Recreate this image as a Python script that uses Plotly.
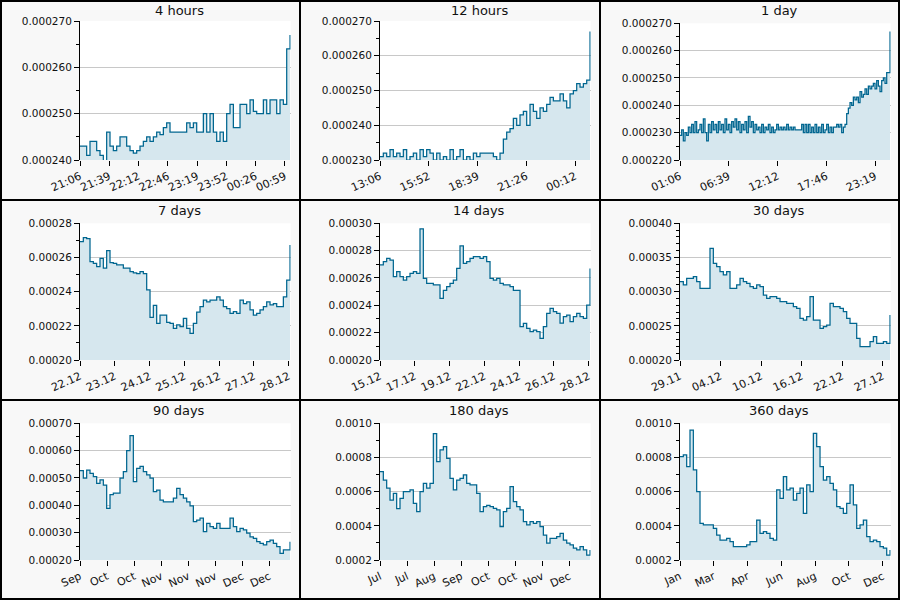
import numpy as np
import plotly.graph_objects as go

# ---------------- data ----------------
titles = ["4 hours", "12 hours", "1 day", "7 days", "14 days", "30 days",
          "90 days", "180 days", "360 days"]

# 4 hours, values x1e-6, minutes from 21:06
v_4h = [243, 243, 241, 244, 244, 242, 241, 239.5, 246, 243, 242, 243, 245, 245, 243, 242,
        241.5, 242, 243, 244, 245, 244, 245, 246, 245.5, 247, 248, 246, 246, 246, 246, 246,
        248, 247, 248, 246, 246, 250, 246, 250, 246, 244, 246, 244, 250, 252, 247, 247,
        252, 252, 250, 253, 250.5, 250, 250, 253, 250, 253, 253, 250, 253, 252, 264, 267]
t_4h = [0, 33.33, 66.67, 100, 133.33, 166.67, 200, 233.33]
lab_4h = ["21:06", "21:39", "22:12", "22:46", "23:19", "23:52", "00:26", "00:59"]

# 12 hours, values x1e-6, minutes from 13:06
v_12h = [231, 232, 231, 233, 231, 232, 231, 233, 230, 231, 232, 230, 233, 231, 233, 232,
         230, 232, 230, 231, 230, 233, 230, 231, 233, 230, 231, 230, 232, 231, 232, 232,
         232, 232, 231, 230, 232, 236, 238, 239, 242, 240, 243, 244, 240, 246, 244, 242,
         245, 244, 246, 248, 247, 247, 249, 247, 245, 249, 250, 252, 251, 252, 253, 267]
t_12h = [0, 166.67, 333.33, 500, 666.67]
lab_12h = ["13:06", "15:52", "18:39", "21:26", "00:12"]

# 1 day, values x1e-6, minutes from 01:06
v_1d = [229, 231, 227, 230, 229, 232, 230, 233, 230, 234, 230, 231, 233, 230, 235, 230,
        227, 233, 230, 234, 231, 233, 230, 234, 231, 233, 230, 235, 231, 233, 230, 234,
        232, 235, 231, 234, 230, 233, 231, 234, 230, 236, 232, 234, 230, 233, 231, 232,
        230, 233, 230, 232, 231, 233, 230, 232, 230, 231, 233, 231, 232, 231, 232, 231,
        233, 231, 232, 231, 232, 231, 231, 231, 231, 233, 230, 233, 230, 233, 230, 232,
        230, 233, 230, 232, 230, 233, 230, 231, 233, 230, 232, 230, 232, 232, 233, 232,
        233, 230, 232, 233, 237, 239, 241, 240, 243, 242, 243, 241, 245, 243, 244, 246,
        244, 247, 246, 247, 248, 246, 249, 247, 245, 249, 250, 248, 252, 252, 267]
t_1d = [0, 333.33, 666.67, 1000, 1333.33]
lab_1d = ["01:06", "06:39", "12:12", "17:46", "23:19"]

# 7 days, values x1e-6, days from 22.12
v_7d = [269.3, 271.6, 271, 257.6, 256.6, 254.6, 259.5, 253.7, 264, 257, 256.6, 255.6,
        255.6, 253.7, 253.7, 251.7, 251, 250.6, 251.7, 250.6, 241, 225, 232, 221.5,
        226.3, 226.3, 222, 221.5, 218.5, 220.5, 219.6, 224.4, 218.5, 215.6, 221.5, 228,
        231.2, 235, 234, 235, 235, 237, 235, 231.2, 230, 227.3, 228.3, 227.3, 235, 233,
        234, 229.3, 226.3, 227.3, 229.3, 231.2, 234, 232.2, 233, 231.2, 231.2, 237,
        246.8, 267.3]
lab_7d = ["22.12", "23.12", "24.12", "25.12", "26.12", "27.12", "28.12"]

# 14 days, values x1e-6
v_14d = [269.5, 272, 274.4, 273, 261, 264.6, 261, 258.5, 261, 263.4, 264.6, 263.4, 296,
         259.8, 256, 256, 255, 254.9, 245, 251, 253.7, 256, 258.5, 267, 283.4, 270.7,
         272, 274.4, 275.6, 275.6, 274.4, 275.6, 272, 259.8, 258.5, 259.8, 256, 254.9,
         254.9, 253.7, 251, 251, 224.4, 226.8, 223.2, 220.7, 221.9, 220.7, 215.9, 224.4,
         234.1, 237.8, 235.4, 234.1, 227, 231.7, 232.9, 228, 231.7, 234.1, 231.7, 230.5,
         240.2, 267]
lab_14d = ["15.12", "17.12", "19.12", "22.12", "24.12", "26.12", "28.12"]

# 30 days, values x1e-6
v_30d = [314.6, 309.8, 319.5, 319.5, 322, 314.6, 304.9, 304.9, 304.9, 363.4, 341.5,
         336.6, 329.3, 324.4, 329.3, 304.9, 304.9, 309.8, 319.5, 314.6, 312.2, 307.3,
         304.9, 309.8, 307.3, 295, 290.2, 292.7, 292.7, 290.2, 285.4, 285.4, 282.9, 282.9,
         278, 275.6, 261, 258.5, 263.4, 292.7, 258.5, 258.5, 246.3, 248.8, 251.2, 282.9,
         278, 278, 275.6, 270.7, 261, 253.7, 253.7, 231.7, 219.5, 219.5, 219.5, 226.8,
         234.1, 224.4, 224.4, 227, 224.4, 265.9]
lab_30d = ["29.11", "04.12", "10.12", "16.12", "22.12", "27.12"]

# 90 days, values x1e-5
v_90d = [52.7, 49.9, 52.9, 51.7, 50.5, 48, 49.3, 47.4, 38.9, 43.9, 44.5, 44.5, 49.9,
         52.3, 60, 65.5, 48.7, 53.5, 54.2, 52.3, 51.1, 49.9, 45, 45.6, 41.9, 41.3, 41.3,
         41.3, 42.6, 46.2, 43.9, 42.6, 41.3, 39.8, 34, 34.6, 35.3, 30.4, 33.4, 32.2, 31.6,
         33.4, 31.6, 31.6, 31.6, 35.3, 32.2, 30.4, 31.6, 31, 29.8, 28.5, 27.9, 26.7, 26.1,
         25.5, 26.7, 27.3, 26.1, 24.9, 22.4, 23.7, 23.7, 26.7]
lab_90d = ["Sep", "Oct", "Oct", "Nov", "Nov", "Nov", "Dec", "Dec"]

# 180 days, values x1e-4
v_180d = [7.17, 6.68, 6.2, 5.51, 5.9, 5.0, 5.61, 6.0, 6.0, 6.1, 5.32, 4.83, 6.0, 6.49,
          6.2, 6.49, 9.4, 7.76, 8.44, 8.63, 7.95, 6.78, 6.1, 6.68, 6.78, 6.98, 6.49, 6.39,
          6.39, 5.9, 4.83, 5.12, 5.2, 5.12, 5.02, 4.93, 3.95, 4.83, 5.02, 6.3, 5.41, 5.12,
          4.93, 4.24, 4.05, 4.24, 4.15, 4.24, 3.95, 3.46, 2.98, 3.27, 3.27, 3.37, 3.56,
          3.17, 2.98, 2.88, 2.69, 2.59, 2.78, 2.59, 2.29, 2.59]
lab_180d = ["Jul", "Jul", "Aug", "Sep", "Oct", "Oct", "Nov", "Dec"]

# 360 days, values x1e-4
v_360d = [8.05, 8.15, 7.46, 9.6, 7.27, 6.0, 4.15, 4.05, 4.05, 4.05, 3.85, 3.46, 3.17,
          3.17, 3.27, 3.07, 2.78, 2.78, 2.78, 2.78, 2.88, 3.07, 3.07, 4.34, 3.56, 3.66,
          3.56, 3.27, 3.17, 6.1, 5.61, 6.88, 6.1, 6.2, 5.51, 5.9, 6.2, 4.73, 6.39, 6.0,
          9.41, 8.63, 7.46, 6.68, 6.88, 6.49, 6.1, 5.12, 5.02, 4.73, 5.32, 6.4, 5.22, 3.85,
          4.05, 4.34, 3.37, 3.07, 3.17, 3.07, 2.78, 2.69, 2.29, 2.59]
lab_360d = ["Jan", "Mar", "Apr", "Jun", "Aug", "Oct", "Dec"]

# ---------------- panel configuration ----------------
panels = [
    dict(v=v_4h, s=1e-6, yr=(240, 270), dt=10, mn=5, fmt=".6f", xr=240.0, tv=t_4h, tt=lab_4h, top=21),
    dict(v=v_12h, s=1e-6, yr=(230, 270), dt=10, mn=5, fmt=".6f", xr=720.0, tv=t_12h, tt=lab_12h, top=21),
    dict(v=v_1d, s=1e-6, yr=(220, 270), dt=10, mn=5, fmt=".6f", xr=1440.0, tv=t_1d, tt=lab_1d, top=23.3),
    dict(v=v_7d, s=1e-6, yr=(200, 280), dt=20, mn=10, fmt=".5f", xr=6.058, tv=list(range(7)), tt=lab_7d, top=23.3),
    dict(v=v_14d, s=1e-6, yr=(200, 300), dt=20, mn=10, fmt=".5f", xr=6.058, tv=list(range(7)), tt=lab_14d, top=23.3),
    dict(v=v_30d, s=1e-6, yr=(200, 400), dt=50, mn=10, fmt=".5f", xr=5.197, tv=list(range(6)), tt=lab_30d, top=23.3),
    dict(v=v_90d, s=1e-5, yr=(20, 70), dt=10, mn=5, fmt=".5f", xr=7.789, tv=list(range(8)), tt=lab_90d, top=23.3),
    dict(v=v_180d, s=1e-4, yr=(2, 10), dt=2, mn=1, fmt=".4f", xr=7.789, tv=list(range(8)), tt=lab_180d, top=23.3),
    dict(v=v_360d, s=1e-4, yr=(2, 10), dt=2, mn=1, fmt=".4f", xr=6.237, tv=list(range(7)), tt=lab_360d, top=23.3),
]

W, H = 900, 600
LINE = "#006690"
FILL = "#d6e7ee"
FONT = "DejaVu Sans"
TXT = "#111111"

fig = go.Figure()
layout = dict(width=W, height=H, margin=dict(l=0, r=0, t=0, b=0, pad=0, autoexpand=False),
              autosize=False,
              paper_bgcolor="#f8f8f8", plot_bgcolor="white", showlegend=False,
              font=dict(family=FONT, size=10.5, color=TXT))
annotations = []
shapes = []

for i, p in enumerate(panels):
    r, c = divmod(i, 3)
    k = "" if i == 0 else str(i + 1)
    n = len(p["v"])
    span = p["xr"] * 630.0 / 632.0
    x = np.linspace(0, span, n)
    y = np.array(p["v"], dtype=float) * p["s"]
    fig.add_trace(go.Scatter(x=x, y=y, mode="lines", line=dict(color=LINE, width=1.25, shape="hv"),
                             fill="tozeroy", fillcolor=FILL, xaxis="x" + k, yaxis="y" + k,
                             hoverinfo="skip"))
    x0 = (c * 300 + 80) / W
    x1 = (c * 300 + 290.7) / W
    yb = 1 - (r * 200 + 160) / H
    yt = 1 - (r * 200 + p["top"]) / H
    layout["xaxis" + k] = dict(domain=[x0, x1], anchor="y" + k, range=[0, p["xr"]],
                               tickmode="array", tickvals=p["tv"], ticktext=p["tt"],
                               tickangle=-24, ticks="outside", ticklen=5, tickcolor="black",
                               showgrid=False, zeroline=False, showline=False, automargin=False,
                               tickfont=dict(family=FONT, size=11, color=TXT))
    lo, hi = p["yr"]
    layout["yaxis" + k] = dict(domain=[yb, yt], anchor="x" + k,
                               range=[lo * p["s"], hi * p["s"]], automargin=False,
                               tick0=lo * p["s"], dtick=p["dt"] * p["s"], tickformat=p["fmt"],
                               ticks="outside", ticklen=5, tickcolor="black",
                               showline=True, linecolor="black", linewidth=1,
                               showgrid=True, gridcolor="#c8c8c8", gridwidth=1, zeroline=False,
                               minor=dict(dtick=p["mn"] * p["s"], tick0=lo * p["s"], ticks="outside",
                                          ticklen=3, tickcolor="black", showgrid=False),
                               tickfont=dict(family=FONT, size=10.5, color=TXT))
    annotations.append(dict(text=titles[i], x=(c * 300 + 179) / W, y=1 - (r * 200 + 10) / H,
                            xref="paper", yref="paper", xanchor="center", yanchor="middle",
                            showarrow=False, font=dict(family=FONT, size=13, color=TXT)))

# panel borders
shapes.append(dict(type="rect", xref="paper", yref="paper", x0=1 / W, x1=1 - 1 / W,
                   y0=1 / H, y1=1 - 1 / H, line=dict(color="black", width=2)))
for xv in (300, 600):
    shapes.append(dict(type="line", xref="paper", yref="paper", x0=xv / W, x1=xv / W,
                       y0=0, y1=1, line=dict(color="black", width=2)))
for yv in (200, 400):
    shapes.append(dict(type="line", xref="paper", yref="paper", x0=0, x1=1,
                       y0=1 - yv / H, y1=1 - yv / H, line=dict(color="black", width=2)))

layout["annotations"] = annotations
layout["shapes"] = shapes
fig.update_layout(**layout)
fig.write_html("out.html", config=dict(displayModeBar=False),
               post_script="document.body.style.margin='0';document.body.style.padding='0';"
                           "document.documentElement.style.overflow='hidden';")
